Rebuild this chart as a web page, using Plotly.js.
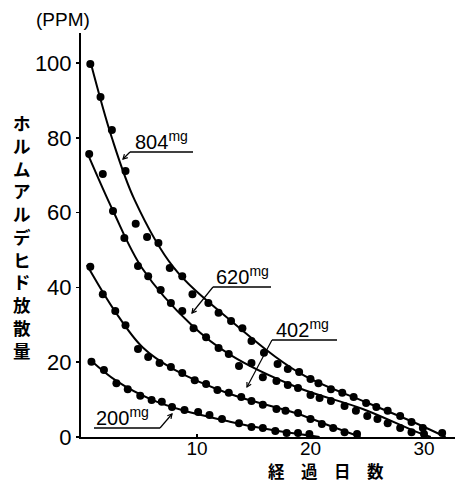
<!DOCTYPE html>
<html>
<head>
<meta charset="utf-8">
<script src="https://cdn.plot.ly/plotly-3.0.1.min.js"></script>
<style>html,body{margin:0;padding:0;background:#fff}#chart{width:455px;height:483px}</style>
</head>
<body>
<div id="chart"></div>
<script>
// ---- data ----
const days804 = [0.6,1.5,2.5,3.7,4.6,5.6,6.6,7.6,8.7,9.6,11.0,11.9,13.0,14.0,14.8,15.9,17.1,18.0,19.0,20.0,20.7,21.8,22.8,23.8,24.9,25.8,26.8,27.9,28.9,29.9,31.6];
const ppm804  = [99.7,90.9,82.1,71.1,57.0,53.5,51.9,45.2,43.0,38.2,35.8,33.2,31.0,29.1,25.7,22.5,19.5,18.2,17.4,15.5,14.4,12.8,11.8,10.7,9.1,8.0,7.0,5.6,4.0,2.4,1.1];
const days620 = [0.5,1.7,2.6,3.6,4.8,5.7,6.8,7.7,8.7,9.7,10.8,11.9,12.8,13.7,14.8,15.8,17.0,18.0,18.9,20.0,20.8,21.8,23.0,24.0,25.0,25.9,26.8,27.9,28.9,30.0];
const ppm620  = [75.7,70.3,60.4,53.2,45.7,43.0,39.3,35.8,33.7,29.1,26.7,23.8,22.2,19.0,19.8,16.0,15.0,13.9,13.1,11.2,10.4,9.6,8.3,7.0,5.6,4.8,3.7,2.4,1.3,0.8];
const days402 = [0.6,1.7,2.8,3.7,4.8,5.7,6.7,7.7,8.7,9.8,10.8,11.8,12.8,13.9,14.8,15.8,17.0,17.8,18.9,20.0,21.0,22.0,23.0,24.1];
const ppm402  = [45.5,38.2,33.7,29.9,23.5,21.4,19.8,18.7,17.1,15.2,14.2,12.6,11.8,10.7,9.6,8.6,7.5,7.0,6.4,4.8,3.5,2.4,1.3,0.8];
const days200 = [0.7,1.8,2.9,3.9,5.0,6.0,6.9,7.8,8.9,10.1,11.1,12.2,13.7,14.8,15.8,16.9,17.9,18.9,19.9];
const ppm200  = [20.1,17.9,14.4,12.8,11.0,9.9,9.4,8.0,7.2,6.7,5.9,4.8,3.7,2.7,2.4,1.6,1.1,1.1,0.8];

// fitted curves (knots)
const curve804X = [0.6,2.5,4.5,7.9,12.9,19.1,24.9,28.9,31.9];
const curve804Y = [100.5,80,63.4,45.5,31.3,17,9.3,4.2,0];
const curve620X = [0.4,2.6,5.2,9.5,12.9,18.8,24.6,29.4,30.6];
const curve620Y = [75.5,60.5,45,30,22,13.3,7.5,1.3,0];
const curve402X = [0.3,2.8,5.2,8.0,12.9,18.8,21.7,24.4];
const curve402Y = [46,33.5,24,18,11.5,6.3,3,0];
const curve200X = [0.6,2.9,6.0,8.9,12.9,16.0,18.5,20.8];
const curve200Y = [20.6,15,10,7,4.1,2.2,1,0];

const doseLabels = ['804', '620', '402', '200'];
const yTicks = [0,20,40,60,80,100];
const xTicks = [10,20,30];
const yTitle = 'ホルムアルデヒド放散量';
const xTitle = '経　過　日　数';
const unitLabel = '(PPM)';

// ---- layout helpers ----
const X0 = 81, X1 = 455, Y0 = 437, Y1 = 33;
const xr = [(X0-83.5)/11.35, (X1-83.5)/11.35];
const yr = [0, (Y0-Y1)/3.74];
const px2x = p => xr[0] + (p - X0) * (xr[1]-xr[0]) / (X1-X0);
const px2y = p => yr[0] + (Y0 - p) * (yr[1]-yr[0]) / (Y0-Y1);

const FONT = 'Liberation Sans, Arial, sans-serif';
const CJK = 'Noto Sans CJK JP, sans-serif';

const traces = [];
const pairs = [[days804,ppm804,curve804X,curve804Y],[days620,ppm620,curve620X,curve620Y],[days402,ppm402,curve402X,curve402Y],[days200,ppm200,curve200X,curve200Y]];
pairs.forEach(([dx,dy,cx,cy]) => {
  traces.push({x: cx, y: cy, mode: 'lines', line: {color: '#000', width: 2, shape: 'spline', smoothing: 1}, hoverinfo: 'skip', showlegend: false, cliponaxis: false});
  traces.push({x: dx, y: dy, mode: 'markers', marker: {color: '#000', size: 8}, showlegend: false, cliponaxis: false});
});

// label geometry in pixels: [textLeft, underlineY, ulStart, ulEnd, tailX, tipX, tipY]
const labelGeom = [
  [133, 152, 130, 193, 130, 123, 159],
  [214, 287, 213, 271, 213, 192, 313],
  [274, 340, 272, 337, 272, 247, 387],
  [94, 428, 94, 160, 160, 172, 414]
];
const annotations = [];
const shapes = [];
const P = (px, py) => px2x(px) + ',' + px2y(py);
labelGeom.forEach((g, i) => {
  const [tl, uy, u0, u1, tx, ix, iy] = g;
  annotations.push({x: px2x(tl), y: px2y(uy), xref: 'x', yref: 'y', xanchor: 'left', yanchor: 'bottom',
    text: doseLabels[i] + '<sup>mg</sup>', showarrow: false, font: {family: FONT, size: 20, color: '#000'}, yshift: -3});
  shapes.push({type: 'line', xref: 'x', yref: 'y', x0: px2x(u0), x1: px2x(u1), y0: px2y(uy), y1: px2y(uy), line: {color: '#000', width: 1.5}});
  shapes.push({type: 'line', xref: 'x', yref: 'y', x0: px2x(tx), x1: px2x(ix), y0: px2y(uy), y1: px2y(iy), line: {color: '#000', width: 1.2}});
  // small arrowhead at the tip
  const dx = ix - tx, dy = iy - uy, L = Math.hypot(dx, dy);
  const ux = dx / L, uyv = dy / L, a = 0.5, h = 5;
  const w1 = [ix - h*(ux*Math.cos(a) - uyv*Math.sin(a)), iy - h*(uyv*Math.cos(a) + ux*Math.sin(a))];
  const w2 = [ix - h*(ux*Math.cos(-a) - uyv*Math.sin(-a)), iy - h*(uyv*Math.cos(-a) + ux*Math.sin(-a))];
  shapes.push({type: 'path', xref: 'x', yref: 'y', path: 'M' + P(w1[0], w1[1]) + ' L' + P(ix, iy) + ' L' + P(w2[0], w2[1]),
    line: {color: '#000', width: 1.2}});
});

annotations.push({xref: 'paper', yref: 'paper', x: (63-X0)/(X1-X0), y: (Y0-20)/(Y0-Y1), xanchor: 'center', yanchor: 'middle',
  text: unitLabel, showarrow: false, font: {family: FONT, size: 19, color: '#000'}});
annotations.push({xref: 'paper', yref: 'paper', x: (22-X0)/(X1-X0), y: (Y0-236)/(Y0-Y1), xanchor: 'center', yanchor: 'middle',
  text: yTitle.split('').join('<br>'), showarrow: false, font: {family: CJK, size: 17.5, color: '#000', weight: 'bold'}});
annotations.push({xref: 'paper', yref: 'paper', x: (326-X0)/(X1-X0), y: (Y0-471)/(Y0-Y1), xanchor: 'center', yanchor: 'middle',
  borderpad: 0, text: xTitle, showarrow: false, font: {family: CJK, size: 16.5, color: '#000', weight: 'bold'}});

const layout = {
  width: 455, height: 483,
  margin: {l: X0, r: 455-X1, t: Y1, b: 483-Y0, pad: 0},
  paper_bgcolor: '#fff', plot_bgcolor: '#fff',
  showlegend: false,
  xaxis: {range: xr, tickvals: xTicks, ticktext: xTicks.map(String), showgrid: false, zeroline: false,
    showline: true, linecolor: '#000', linewidth: 2, ticks: 'inside', ticklen: 3, tickwidth: 1.5, tickcolor: '#000',
    ticklabelstandoff: -7,
    tickfont: {family: FONT, size: 19, color: '#000'}},
  yaxis: {range: yr, tickvals: yTicks, ticktext: yTicks.map(String), showgrid: false, zeroline: false,
    showline: true, linecolor: '#000', linewidth: 2, ticks: 'outside', ticklen: 3, tickwidth: 1.5, tickcolor: '#000',
    tickfont: {family: FONT, size: 22, color: '#000'}},
  annotations: annotations,
  shapes: shapes
};
Plotly.newPlot('chart', traces, layout, {displayModeBar: false, staticPlot: true});
</script>
</body>
</html>
